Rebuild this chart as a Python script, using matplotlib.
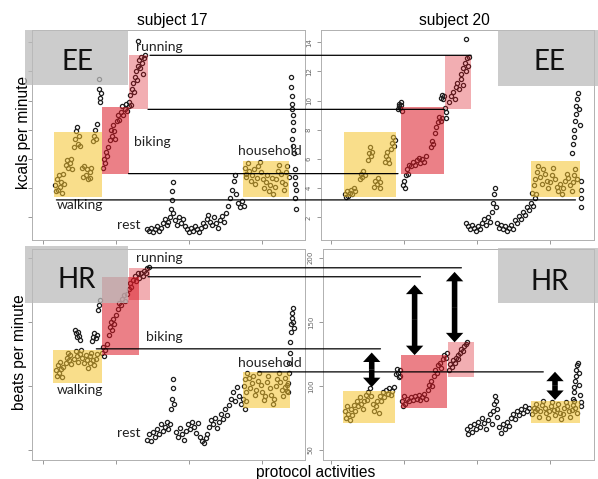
import numpy as np
import matplotlib
matplotlib.use("Agg")
import matplotlib.pyplot as plt
from matplotlib.patches import Rectangle, ConnectionPatch

# ---------------- data ----------------
# x = time through the protocol (arbitrary units), y = kcal/min or bpm
# subject 17, energy expenditure
s17_ee = [
    # walking
    (13, 4.2), (14, 3.8), (15, 4.6), (16, 3.9), (17, 4.9), (18, 4.1), (19, 4.4), (20, 3.7),
    (21, 5.0), (22, 4.3), (24, 5.6), (25, 5.9), (26, 5.4), (28, 5.7), (29, 6.0), (30, 5.3),
    (32, 6.8), (33, 7.4), (34, 7.9), (35, 8.2), (36, 7.0), (37, 7.6), (38, 6.9), (40, 5.4),
    (41, 4.8), (42, 5.5), (44, 4.9), (45, 5.3), (46, 4.6), (48, 5.1), (49, 4.7), (50, 5.4),
    (52, 7.2), (53, 7.6), (54, 8.0), (55, 7.4), (56, 8.4),
    # transition
    (58, 11.5), (58, 10.8), (59, 10.2), (59, 9.9), (60, 10.5),
    # biking
    (62, 5.4), (63, 6.0), (64, 5.7), (65, 6.5), (66, 6.2), (67, 6.8), (69, 7.3), (70, 8.0),
    (71, 7.6), (72, 8.3), (73, 7.9), (74, 7.4), (76, 8.6), (77, 9.0), (78, 8.7), (80, 9.2),
    (81, 9.6), (82, 9.0), (84, 9.4), (85, 9.8), (86, 9.3), (88, 9.6),
    # running
    (89, 9.9), (90, 10.4), (91, 9.7), (92, 10.8), (93, 11.2), (94, 10.6), (95, 11.6), (96, 12.0),
    (97, 11.4), (98, 12.4), (99, 12.8), (100, 12.2), (101, 13.0), (102, 12.6), (103, 11.8),
    (104, 12.9), (105, 13.1), (98, 14.1),
    # rest
    (107, 1.2), (109, 1.1), (111, 1.3), (113, 1.0), (115, 1.2), (117, 1.4), (119, 1.1), (121, 1.3),
    (123, 1.6), (125, 1.9), (127, 1.5), (129, 1.7), (131, 2.0), (132, 2.6), (133, 3.2), (133, 3.8),
    (134, 4.4), (134, 2.3), (136, 1.8), (138, 1.5), (140, 2.0), (142, 1.6), (144, 1.9), (146, 1.4),
    (148, 1.2), (150, 1.0), (152, 1.3), (154, 1.1), (156, 1.4), (158, 1.2), (160, 1.0), (162, 1.3),
    (164, 1.6), (166, 1.4), (168, 1.9), (170, 2.2), (172, 1.7), (174, 1.5), (176, 2.0), (178, 1.6),
    (180, 1.3), (182, 1.8), (184, 2.1), (186, 1.7), (188, 2.3), (190, 2.8), (192, 3.3), (194, 3.9),
    (196, 4.5), (197, 4.9), (198, 3.6), (200, 3.0), (202, 2.7), (204, 3.1), (206, 2.8),
    # household
    (207, 5.4), (208, 4.8), (209, 5.0), (211, 5.7), (212, 5.2), (214, 4.5), (215, 4.9), (217, 5.3),
    (218, 4.3), (220, 4.7), (221, 5.5), (223, 5.8), (224, 5.1), (226, 4.6), (227, 4.0), (229, 4.4),
    (230, 4.9), (232, 3.8), (233, 4.2), (235, 4.7), (236, 3.6), (238, 4.1), (239, 4.6), (241, 5.2),
    (242, 5.6), (244, 5.0), (245, 4.4), (247, 3.9), (248, 4.3), (250, 5.1), (251, 5.5), (253, 4.8),
    # end of protocol
    (255, 11.6), (255, 10.9), (256, 10.3), (256, 9.8), (256, 9.4), (257, 9.0), (257, 8.5),
    (257, 8.0), (256, 7.4), (257, 6.9), (258, 6.4), (259, 5.3), (259, 4.8), (259, 4.3),
    (260, 3.9), (259, 3.3), (260, 2.6),
]

# subject 20, energy expenditure
s20_ee = [
    # walking
    (15, 3.6), (16, 3.4), (17, 3.8), (18, 3.5), (20, 3.7), (21, 3.9), (22, 3.6), (24, 4.0), (25, 3.8),
    (30, 4.6), (31, 5.0), (32, 4.8), (33, 5.2), (35, 4.9),
    (38, 5.9), (39, 6.4), (40, 6.8), (41, 6.2), (42, 6.5),
    (44, 4.1), (45, 4.5), (47, 4.3), (48, 4.7), (50, 4.4), (51, 4.0),
    (56, 5.8), (57, 6.2), (58, 6.5), (59, 6.0), (60, 5.7),
    (62, 6.7), (63, 7.1), (64, 7.5), (65, 6.9), (66, 7.3),
    # transition
    (69, 9.4), (70, 9.6), (70, 9.8), (71, 9.5), (72, 9.7), (73, 9.3), (72, 9.9),
    # biking
    (74, 4.2), (75, 4.5), (76, 4.0), (77, 4.9), (78, 5.3), (79, 5.0), (80, 5.6),
    (82, 5.5), (84, 5.8), (86, 5.6), (88, 5.9), (90, 6.1), (92, 5.7), (94, 6.0), (96, 5.8), (98, 6.2),
    (103, 6.8), (104, 7.2), (105, 7.0), (107, 7.8), (108, 8.2), (110, 8.5), (111, 8.9), (113, 8.6),
    (114, 8.8),
    # running
    (113, 10.2), (114, 10.4), (115, 10.1), (116, 10.3), (117, 9.5), (118, 9.2), (118, 8.8),
    (121, 9.9), (123, 10.3), (125, 10.6), (127, 10.1), (128, 10.9), (130, 11.2), (132, 10.8),
    (134, 11.5), (136, 11.1), (134, 11.8), (136, 12.2), (138, 12.6), (139, 12.0), (140, 12.9),
    (141, 12.4), (142, 13.0), (139, 14.2),
    # rest
    (139, 1.6), (141, 1.4), (143, 1.2), (145, 1.5), (147, 1.3), (149, 1.1), (151, 1.4), (153, 1.2),
    (155, 1.6), (157, 1.9), (159, 1.5), (161, 2.0), (163, 1.7), (165, 2.4), (166, 3.0), (167, 3.6),
    (168, 4.0), (169, 2.7), (171, 1.6), (173, 1.3), (175, 1.5), (177, 1.2), (179, 1.4), (181, 1.1),
    (183, 1.3), (185, 1.5), (187, 1.2), (189, 1.8), (191, 1.6), (193, 2.1), (195, 1.9), (197, 2.4),
    (199, 2.2), (201, 2.7), (203, 2.5), (205, 3.0), (207, 2.8), (209, 3.3), (211, 3.6),
    # household
    (206, 3.7), (208, 4.2), (210, 4.6), (212, 5.1), (213, 5.5), (215, 4.8), (217, 4.3), (218, 5.3),
    (220, 5.0), (222, 4.5), (223, 4.0), (225, 4.4), (227, 4.9), (228, 5.4), (230, 4.6), (232, 4.1),
    (233, 3.8), (235, 4.3), (237, 3.6), (238, 4.0), (240, 4.5), (242, 5.0), (243, 4.7), (245, 4.2),
    (247, 3.8), (248, 4.4), (250, 4.9), (251, 5.3), (253, 4.6),
    # end of protocol
    (247, 6.4), (248, 7.0), (249, 7.5), (250, 8.0), (251, 8.6), (252, 9.1), (252, 9.6), (253, 10.1),
    (254, 10.5), (255, 9.4), (256, 8.3), (257, 4.5), (257, 3.9), (257, 3.3), (257, 2.7),
]

# subject 17, heart rate
s17_hr = [
    # walking
    (14, 112), (15, 108), (16, 116), (17, 110), (18, 119), (19, 113), (20, 107), (21, 115),
    (24, 118), (25, 122), (26, 126), (27, 120), (28, 124), (29, 117), (32, 121), (34, 127),
    (35, 123), (36, 119), (38, 125), (39, 128), (40, 122), (42, 118), (44, 124), (45, 120),
    (46, 114), (48, 118), (49, 123), (50, 126), (52, 120), (53, 116), (55, 121), (56, 125),
    (33, 144), (34, 141), (35, 138), (36, 142), (37, 139), (38, 136),
    (51, 135), (52, 138), (53, 141), (55, 137), (56, 140), (57, 159), (58, 163), (59, 167),
    # biking
    (61, 126), (62, 130), (63, 123), (64, 128), (66, 133), (68, 140), (69, 146), (70, 150),
    (71, 144), (72, 152), (73, 148), (75, 155), (77, 160), (78, 165), (80, 163), (81, 168),
    (83, 171), (84, 166), (86, 172), (88, 176), (90, 180), (91, 177), (93, 183), (95, 186),
    (96, 182), (98, 188),
    # running
    (99, 184), (101, 188), (103, 186), (104, 190), (106, 188), (107, 192), (109, 193),
    # rest
    (107, 58), (109, 62), (111, 57), (113, 64), (115, 60), (117, 66), (119, 62), (121, 70),
    (123, 65), (125, 68), (127, 72), (129, 66), (131, 70), (132, 82), (133, 90), (134, 98),
    (134, 105), (135, 86), (137, 64), (139, 60), (141, 67), (143, 62), (145, 58), (147, 65),
    (149, 70), (151, 66), (153, 72), (155, 68), (157, 63), (159, 71), (161, 60), (163, 57),
    (165, 55), (167, 59), (169, 62), (171, 68), (173, 73), (175, 70), (177, 75), (179, 67),
    (181, 72), (183, 78), (185, 74), (187, 82), (189, 77), (191, 85), (193, 90), (195, 95),
    (197, 88), (199, 99), (201, 92), (203, 86), (205, 90), (207, 82), (209, 88),
    # household
    (206, 100), (207, 105), (209, 95), (210, 110), (212, 106), (213, 98), (215, 102), (216, 108),
    (218, 93), (219, 97), (221, 104), (222, 110), (224, 101), (225, 95), (227, 89), (228, 92),
    (230, 103), (231, 108), (233, 98), (234, 93), (236, 86), (237, 90), (239, 100), (240, 105),
    (242, 110), (243, 103), (245, 97), (246, 92), (248, 99), (249, 106), (251, 101), (252, 95),
    # end of protocol
    (251, 96), (252, 102), (253, 110), (253, 118), (254, 126), (254, 134), (255, 142),
    (255, 148), (256, 153), (256, 157), (257, 161), (257, 150), (258, 145),
]

# subject 20, heart rate
s20_hr = [
    # walking
    (15, 80), (16, 75), (17, 84), (18, 78), (20, 73), (21, 82), (22, 77), (24, 85), (25, 80),
    (27, 88), (28, 84), (30, 91), (31, 86), (33, 82), (34, 88), (36, 93), (37, 89), (38, 95),
    (40, 98), (41, 92), (43, 86), (44, 80), (46, 84), (47, 88), (49, 79), (51, 92), (52, 88),
    (54, 95), (55, 91), (57, 97), (59, 94), (60, 98), (62, 93), (63, 96), (65, 99),
    # transition
    (67, 109), (68, 113), (69, 110), (70, 107), (71, 112), (71, 108),
    # biking
    (73, 88), (74, 84), (75, 92), (76, 86), (78, 90), (80, 88), (82, 91), (84, 89), (86, 92),
    (88, 90), (90, 93), (92, 89), (94, 91), (96, 94), (98, 90),
    (100, 97), (101, 101), (103, 104), (104, 100), (106, 108), (107, 112), (109, 110),
    (110, 116), (112, 118), (113, 114), (115, 121), (116, 124), (118, 122), (119, 126),
    # running
    (121, 112), (122, 117), (124, 115), (125, 120), (127, 118), (128, 122), (130, 124),
    (131, 121), (133, 126), (134, 129), (136, 127), (137, 131), (139, 133), (140, 134),
    # rest
    (140, 66), (141, 62), (143, 69), (145, 64), (147, 70), (149, 66), (151, 72), (153, 68),
    (155, 75), (157, 71), (159, 66), (161, 73), (163, 78), (165, 70), (166, 80), (167, 86),
    (168, 92), (169, 88), (170, 82), (171, 76), (173, 68), (175, 63), (177, 70), (179, 66),
    (181, 72), (183, 69), (185, 75), (187, 78), (189, 74), (191, 80), (193, 77), (195, 82),
    (197, 79), (199, 84), (201, 80), (203, 83),
    # household
    (206, 78), (208, 83), (209, 80), (211, 86), (212, 82), (214, 76), (215, 80), (217, 85),
    (218, 88), (220, 83), (221, 79), (223, 75), (224, 80), (226, 84), (227, 87), (229, 81),
    (230, 77), (232, 82), (233, 86), (235, 79), (236, 74), (238, 78), (239, 83), (241, 87),
    (242, 84), (244, 80), (245, 76), (247, 81), (248, 85), (250, 88), (251, 83), (253, 79),
    # end of protocol
    (248, 90), (249, 95), (250, 99), (251, 104), (252, 108), (252, 112), (253, 116), (254, 118),
    (255, 110), (255, 101), (256, 93), (257, 87), (257, 84),
]

# activity windows (x0, x1, y0, y1): walking, biking, running, household
box_kind = ['walk', 'bike', 'run', 'house']
s17_ee_boxes = [(12, 61, 3.37, 7.83), (61, 88, 4.95, 9.54), (89, 108, 9.4, 13.1), (205, 253, 3.37, 5.84)]
s20_ee_boxes = [(14, 67, 3.37, 7.83), (72, 116, 4.95, 9.54), (117, 144, 9.4, 13.1), (205, 256, 3.37, 5.84)]
s17_hr_boxes = [(11, 61, 102, 128), (61, 99, 124, 185), (89, 110, 167, 192), (205, 254, 83, 111)]
s20_hr_boxes = [(13, 66, 71, 96), (72, 119, 83, 124), (120, 147, 107, 134), (205, 256, 71, 88)]

# reference levels carried from subject 17 over to subject 20
ee_levels = [13.1, 9.4, 5.0, 3.2]
ee_start17 = [110, 108, 88, 14]
ee_end20 = [144, 117, 69, 251]
hr_levels = [192.2, 185.2, 128.9, 110.9]
hr_start17 = [107, 108, 55, 221]
hr_end20 = [134, 92, 51, 218]

# double arrows in subject 20 HR panel
arrow_x = [42, 86, 127, 230]
arrow_lo = [99, 124, 134, 89]
arrow_hi = [126, 179, 189, 111]

labels17 = ['running', 'biking', 'household', 'walking', 'rest']
lab_ee_xy = [(120, 13.66), (112, 7.14), (233, 6.52), (38, 2.82), (88, 1.45)]
lab_hr_xy = [(120, 200.0), (125, 138.3), (233, 118.0), (38, 96.9), (88, 63.3)]

# ---------------- figure ----------------
fig = plt.figure(figsize=(5.98, 4.79), dpi=100)

box_fc = {'walk': ('#f5c32d', 0.55), 'bike': ('#dc1824', 0.55),
          'run': ('#dc1824', 0.35), 'house': ('#f5c32d', 0.55)}

ax_tl = fig.add_axes([0.0535, 0.5000, 0.4565, 0.4370])
ax_tr = fig.add_axes([0.5368, 0.5000, 0.4565, 0.4370])
ax_bl = fig.add_axes([0.0535, 0.0400, 0.4565, 0.4405])
ax_br = fig.add_axes([0.5401, 0.0400, 0.4532, 0.4405])

panels = [(ax_tl, s17_ee, s17_ee_boxes, (-11, 269), (0.49, 14.82), [2, 4, 6, 8, 10, 12, 14], False),
          (ax_tr, s20_ee, s20_ee_boxes, (-10, 270), (0.49, 14.82), [2, 4, 6, 8, 10, 12, 14], True),
          (ax_bl, s17_hr, s17_hr_boxes, (-11, 269), (42.2, 207), [50, 100, 150, 200], False),
          (ax_br, s20_hr, s20_hr_boxes, (-8, 270), (42.2, 207), [50, 100, 150, 200], True)]

for ax, pts, boxes, xl, yl, yt, showlab in panels:
    pts = np.array(pts)
    ax.plot(pts[:, 0], pts[:, 1], 'o', ms=3.0, mfc='none', mec='#1e1e1e', mew=0.9, zorder=2)
    for kind, (x0, x1, y0, y1) in zip(box_kind, boxes):
        fc, a = box_fc[kind]
        ax.add_patch(Rectangle((x0, y0), x1 - x0, y1 - y0, fc=fc, alpha=a, ec='none', zorder=3))
    ax.set_xlim(*xl)
    ax.set_ylim(*yl)
    ax.set_xticks([0, 75, 150, 225])
    ax.set_yticks(yt)
    ax.tick_params(colors='#888888', length=3, width=0.6, labelbottom=False,
                   labelleft=showlab, labelsize=5, labelcolor='#666666')
    if showlab:
        for t in ax.get_yticklabels():
            t.set_rotation(90)
            t.set_va('center')
    for s in ax.spines.values():
        s.set_color('#b0b0b0')
        s.set_linewidth(0.7)

# horizontal reference lines spanning both subjects
for lev, xa, xb in zip(ee_levels, ee_start17, ee_end20):
    fig.add_artist(ConnectionPatch(xyA=(xa, lev), coordsA=ax_tl.transData,
                                   xyB=(xb, lev), coordsB=ax_tr.transData,
                                   color='black', lw=0.9, zorder=5))
for lev, xa, xb in zip(hr_levels, hr_start17, hr_end20):
    fig.add_artist(ConnectionPatch(xyA=(xa, lev), coordsA=ax_bl.transData,
                                   xyB=(xb, lev), coordsB=ax_br.transData,
                                   color='black', lw=0.9, zorder=5))

# each double arrow = two solid arrows pointing out from the middle
arr_style = 'simple,head_length=0.68,head_width=1.25,tail_width=0.4'
for x, lo, hi in zip(arrow_x, arrow_lo, arrow_hi):
    mid = (lo + hi) / 2
    for end in (lo, hi):
        ax_br.annotate('', xy=(x, end), xytext=(x, mid),
                       arrowprops=dict(arrowstyle=arr_style, mutation_scale=10,
                                       fc='black', ec='none', shrinkA=0, shrinkB=0),
                       zorder=6)

lab_font = 'Lato'
for name, (x, y) in zip(labels17, lab_ee_xy):
    ax_tl.text(x, y, name, ha='center', va='center', fontsize=10, family=lab_font,
               color='#222222', zorder=7, clip_on=False)
for name, (x, y) in zip(labels17, lab_hr_xy):
    ax_bl.text(x, y, name, ha='center', va='center', fontsize=10, family=lab_font,
               color='#222222', zorder=7, clip_on=False)

# grey EE / HR tags
tags = [('EE', 0.0418, 0.8225, 0.1722, 0.1148, 0.1288, 0.8706),
        ('EE', 0.8328, 0.8205, 0.1672, 0.1169, 0.9197, 0.8706),
        ('HR', 0.0418, 0.3674, 0.1722, 0.1190, 0.1288, 0.4154),
        ('HR', 0.8328, 0.3674, 0.1672, 0.1148, 0.9197, 0.4113)]
for t, x0, y0, w, h, tx, ty in tags:
    fig.add_artist(Rectangle((x0, y0), w, h, transform=fig.transFigure,
                             fc='#bcbcbc', alpha=0.75, ec='none', zorder=8))
    fig.text(tx, ty, t, ha='center', va='center', fontsize=20, family=lab_font,
             color='#111111', zorder=9)

fig.text(0.2876, 0.9582, 'subject 17', ha='center', va='center', fontsize=11.2, family='Liberation Sans')
fig.text(0.7592, 0.9582, 'subject 20', ha='center', va='center', fontsize=11.2, family='Liberation Sans')
fig.text(0.0401, 0.7244, 'kcals per minute', ha='center', va='center', rotation=90,
         fontsize=11.2, family='Liberation Sans')
fig.text(0.0334, 0.2651, 'beats per minute', ha='center', va='center', rotation=90,
         fontsize=11.2, family='Liberation Sans')
fig.text(0.5284, 0.0146, 'protocol activities', ha='center', va='center',
         fontsize=11.2, family='Liberation Sans')

fig.savefig('out.png', dpi=100)
